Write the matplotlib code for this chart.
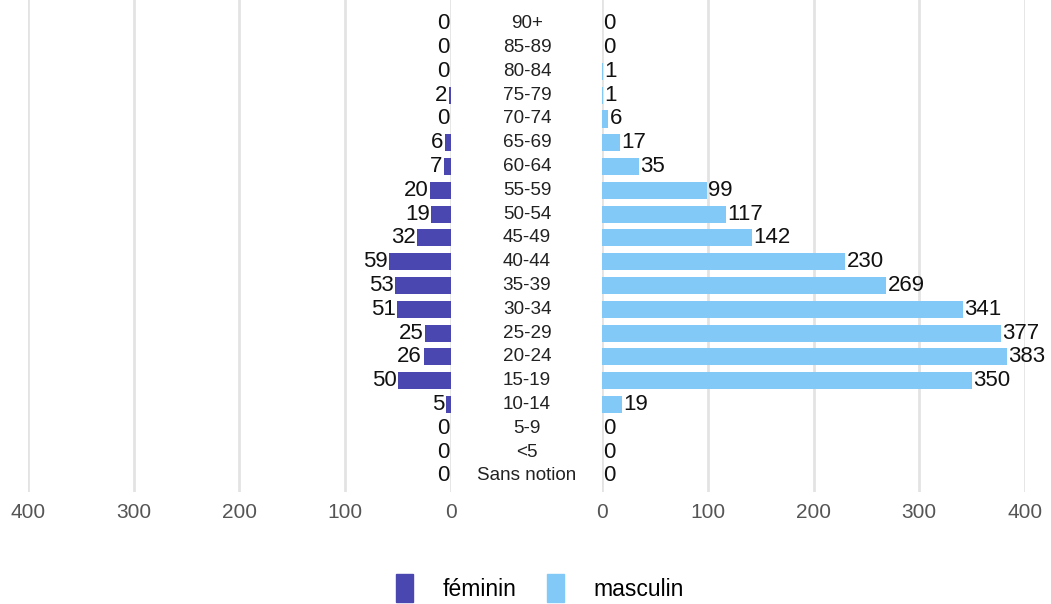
import numpy as np
import matplotlib.pyplot as plt
from matplotlib.patches import Patch

plt.rcParams['font.family'] = ['Liberation Sans', 'DejaVu Sans']

# ==========================================================
# DATA
# ==========================================================
age_groups = ["90+", "85-89", "80-84", "75-79", "70-74", "65-69", "60-64",
              "55-59", "50-54", "45-49", "40-44", "35-39", "30-34", "25-29",
              "20-24", "15-19", "10-14", "5-9", "<5", "Sans notion"]
feminin = [0, 0, 0, 2, 0, 6, 7, 20, 19, 32, 59, 53, 51, 25, 26, 50, 5, 0, 0, 0]
masculin = [0, 0, 1, 1, 6, 17, 35, 99, 117, 142, 230, 269, 341, 377, 383, 350, 19, 0, 0, 0]
x_ticks = [0, 100, 200, 300, 400]

col_f = "#4A47B0"
col_m = "#82C9F8"
grid_col = "#E3E3E3"

W, H = 1051, 604
fig = plt.figure(figsize=(W / 100, H / 100), dpi=100)

# axes in pixel coords
def px_axes(x0, x1, y0, y1):
    return fig.add_axes([x0 / W, 1 - y1 / H, (x1 - x0) / W, (y1 - y0) / H])

ax_f = px_axes(28, 451, 0, 492)
ax_m = px_axes(602, 1025, 0, 492)

y = np.arange(len(age_groups))
ylim = (19.68, -1.0)

for ax, vals, col, side in [(ax_f, feminin, col_f, "left"), (ax_m, masculin, col_m, "right")]:
    ax.barh(y, vals, height=0.72, color=col, zorder=2)
    if side == "left":
        ax.set_xlim(400, 0)
    else:
        ax.set_xlim(0, 400)
    ax.set_ylim(*ylim)
    ax.set_xticks(x_ticks)
    ax.set_xticklabels([str(t) for t in x_ticks], fontsize=15, color="#555555")
    ax.tick_params(axis="x", length=0, pad=8)
    ax.set_yticks([])
    ax.grid(axis="x", color=grid_col, linewidth=2, zorder=0)
    for s in ax.spines.values():
        s.set_visible(False)
    ax.set_axisbelow(True)
    for yi, v in zip(y, vals):
        if side == "left":
            ax.annotate(str(v), (v, yi), xytext=(-1, 0), textcoords="offset points",
                        ha="right", va="center", fontsize=16, color="#111111")
        else:
            ax.annotate(str(v), (v, yi), xytext=(1, 0), textcoords="offset points",
                        ha="left", va="center", fontsize=16, color="#111111")

# category labels in the middle
for yi, lab in zip(y, age_groups):
    ax_f.annotate(lab, (0, yi), xytext=(527 - 451, 0), textcoords="offset pixels",
                  ha="center", va="center", fontsize=13.6, color="#222222",
                  annotation_clip=False)

handles = [Patch(color=col_f, label="féminin"), Patch(color=col_m, label="masculin")]
fig.legend(handles=handles, loc="center", bbox_to_anchor=(540 / W, 1 - 588 / H),
           ncol=2, frameon=False, fontsize=16.5, handlelength=0.75, handleheight=1.45,
           handletextpad=1.3, columnspacing=1.3)

fig.savefig("out.png", dpi=100)
